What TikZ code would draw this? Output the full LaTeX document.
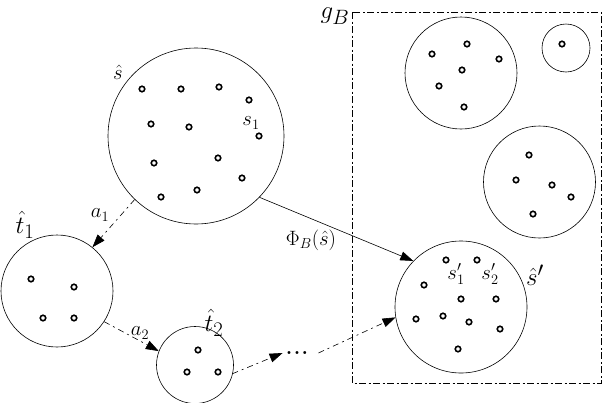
\documentclass[tikz,border=0pt]{standalone}
\usetikzlibrary{arrows.meta}
\begin{document}
\begin{tikzpicture}[x=1pt,y=-1pt,
  set/.style={draw,circle,inner sep=0pt,line width=0.6pt},
  pt/.style={draw,circle,inner sep=0pt,minimum size=5.5pt,line width=1.6pt},
  lbl/.style={inner sep=0pt,font=\fontsize{20.74}{24}\selectfont},
  biglbl/.style={inner sep=0pt,font=\fontsize{24.88}{28}\selectfont},
  tip/.style={-{Triangle[length=13pt,width=9pt]}},
  dd/.style={line width=0.6pt,dash pattern=on 6pt off 4pt on 2pt off 4pt},
  boxline/.style={line width=0.7pt,dash pattern=on 7pt off 2.5pt on 2pt off 2.5pt}]
\useasboundingbox (0,0) rectangle (602,402);
% box g_B
\draw[boxline] (352,12) rectangle (601,383);
\node[biglbl] (gB) at (335,16) {$g_B$};
% sets
\node[set,minimum size=176pt] (s) at (196,136) {};
\node[set,minimum size=112pt] (t1) at (57,291) {};
\node[set,minimum size=77pt] (t2) at (195,365) {};
\node[set,minimum size=132pt] (sp) at (461,307) {};
\node[set,minimum size=112pt] (A) at (461,73) {};
\node[set,minimum size=48pt] (B) at (566,48) {};
\node[set,minimum size=112pt] (C) at (539.5,182) {};
% labels
\node[lbl] (ls) at (118,72) {$\hat{s}$};
\node[lbl] (ls1) at (251,123) {$s_1$};
\node[biglbl] (lt1) at (25,225) {$\hat{t}_1$};
\node[biglbl] (lt2) at (214,323) {$\hat{t}_2$};
\node[biglbl] (lsp) at (535,275) {$\hat{s}'$};
\node[lbl] (lsp1) at (456,274) {$s'_1$};
\node[lbl] (lsp2) at (490,274) {$s'_2$};
\node[lbl] (la1) at (100,215) {$a_1$};
\node[lbl] (la2) at (140,333) {$a_2$};
\node[lbl] (lphi) at (311,240) {$\Phi_B(\hat{s})$};
\node[lbl,font=\fontsize{20.74}{24}\bfseries] (dots) at (297,353) {.\hspace{1.5pt}.\hspace{1.5pt}.};
% points in s
\foreach \p/\q in {p1/{142,89},p2/{181,89},p3/{219,87},p4/{249,100},p5/{151,124},p6/{189,127},p7/{259,136},p8/{154,163},p9/{218,158},p10/{242,178},p11/{197,190},p12/{161,197}}
  \node[pt] (s\p) at (\q) {};
% points in t1
\foreach \p/\q in {p1/{31,279},p2/{74,287},p3/{43,318},p4/{74,318}}
  \node[pt] (t1\p) at (\q) {};
% points in t2
\foreach \p/\q in {p1/{198,350},p2/{187,372},p3/{218,372}}
  \node[pt] (t2\p) at (\q) {};
% points in s'
\foreach \p/\q in {p1/{446,260},p2/{477,260},p3/{424,285},p4/{461,299},p5/{496,299},p6/{416,319},p7/{443,316},p8/{469,322},p9/{500,329},p10/{458,349}}
  \node[pt] (sp\p) at (\q) {};
% points in A
\foreach \p/\q in {p1/{467,44},p2/{432,54},p3/{499,59},p4/{462,70},p5/{439,86},p6/{464,107}}
  \node[pt] (A\p) at (\q) {};
% point in B
\node[pt] (Bp1) at (562,44) {};
% points in C
\foreach \p/\q in {p1/{529,155},p2/{516,180},p3/{552,185},p4/{571,197},p5/{533,214}}
  \node[pt] (C\p) at (\q) {};
% connectors
\draw[dd,tip] (s.226) -- (t1.51);
\draw[dd,tip] (t1.-33) -- (t2.159);
\draw[dd,tip] ([xshift=-0.4pt]t2.-13) -- ([xshift=-3pt]dots.west);
\draw[dd,tip] ([xshift=10pt]dots.east) -- (sp.189);
\draw[line width=0.6pt,tip] (s.-44) -- (sp.136);
\end{tikzpicture}
\end{document}
